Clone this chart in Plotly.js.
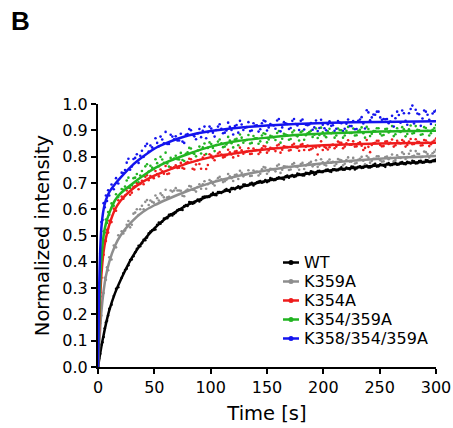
<!DOCTYPE html>
<html><head><meta charset="utf-8">
<script src="https://cdn.plot.ly/plotly-3.0.1.min.js"></script>
<style>html,body{margin:0;padding:0;background:#fff}#chart{width:453px;height:428px}</style>
</head><body><div id="chart"></div>
<script>
// ---- data ----
const seriesNames = ["WT", "K359A", "K354A", "K354/359A", "K358/354/359A"];

// fitted curves
const fitTime = [0,1,2,3,5,7,10,15,20,30,40,50,60,80,100,125,150,175,200,250,300];
const fitWT   = [0,0.027,0.053,0.078,0.122,0.163,0.215,0.28,0.33,0.415,0.478,0.527,0.565,0.617,0.652,0.683,0.708,0.728,0.744,0.767,0.783];
const fitK359 = [0,0.08,0.15,0.21,0.29,0.345,0.40,0.46,0.50,0.553,0.59,0.615,0.635,0.67,0.70,0.727,0.748,0.763,0.775,0.792,0.802];
const fitK354 = [0,0.15,0.27,0.35,0.44,0.49,0.54,0.598,0.632,0.675,0.705,0.728,0.745,0.775,0.798,0.815,0.828,0.837,0.843,0.85,0.853];
const fitK354_359 = [0,0.2,0.33,0.41,0.5,0.545,0.585,0.633,0.66,0.695,0.727,0.755,0.777,0.81,0.838,0.86,0.872,0.882,0.888,0.895,0.898];
const fitK358_354_359 = [0,0.3,0.45,0.53,0.6,0.635,0.665,0.695,0.72,0.765,0.80,0.83,0.85,0.88,0.897,0.91,0.918,0.924,0.928,0.932,0.934];

// measured points, first set (15 early points, then every 3 s from 21 to 300)
const pointTime = [
 0,1,2,3,4,5,6,7,8,9,10,12,14,16,18,
 21,24,27,30,33,36,39,42,45,48,
 51,54,57,60,63,66,69,72,75,78,
 81,84,87,90,93,96,99,102,105,108,
 111,114,117,120,123,126,129,132,135,138,
 141,144,147,150,153,156,159,162,165,168,
 171,174,177,180,183,186,189,192,195,198,
 201,204,207,210,213,216,219,222,225,228,
 231,234,237,240,243,246,249,252,255,258,
 261,264,267,270,273,276,279,282,285,288,
 291,294,297,300];
const ptsWT = [
 0.000,0.032,0.050,0.085,0.094,0.114,0.147,0.169,0.176,0.196,0.221,0.237,0.270,0.297,0.303,
 0.339,0.369,0.387,0.409,0.436,0.461,0.471,0.482,0.508,0.520,
 0.523,0.549,0.552,0.566,0.579,0.576,0.587,0.600,0.597,0.616,
 0.627,0.621,0.630,0.629,0.646,0.648,0.647,0.662,0.653,0.665,
 0.666,0.677,0.666,0.680,0.682,0.679,0.694,0.689,0.698,0.690,
 0.702,0.707,0.703,0.703,0.718,0.710,0.718,0.718,0.713,0.728,
 0.727,0.723,0.736,0.730,0.728,0.737,0.744,0.731,0.745,0.741,
 0.746,0.751,0.742,0.752,0.748,0.759,0.750,0.755,0.762,0.751,
 0.761,0.757,0.767,0.759,0.762,0.773,0.763,0.768,0.761,0.775,
 0.768,0.776,0.770,0.779,0.771,0.777,0.784,0.774,0.783,0.777,
 0.787,0.779,0.785,0.789];
const ptsK359 = [
 0.000,0.068,0.166,0.196,0.268,0.281,0.339,0.332,0.379,0.368,0.417,0.409,0.462,0.455,0.501,
 0.516,0.519,0.555,0.541,0.587,0.578,0.613,0.628,0.616,0.628,
 0.652,0.633,0.653,0.674,0.647,0.667,0.680,0.671,0.651,0.670,
 0.688,0.674,0.667,0.695,0.695,0.678,0.711,0.697,0.708,0.723,
 0.703,0.712,0.725,0.707,0.732,0.746,0.725,0.733,0.726,0.747,
 0.743,0.735,0.760,0.735,0.754,0.751,0.765,0.738,0.763,0.761,
 0.751,0.775,0.760,0.772,0.753,0.771,0.780,0.769,0.761,0.790,
 0.769,0.781,0.777,0.765,0.791,0.786,0.773,0.797,0.781,0.774,
 0.788,0.799,0.771,0.796,0.784,0.792,0.801,0.781,0.798,0.790,
 0.808,0.787,0.796,0.816,0.791,0.811,0.801,0.821,0.810,0.799,
 0.817,0.797,0.813,0.826];
const ptsK354 = [
 0.000,0.138,0.283,0.339,0.418,0.427,0.481,0.479,0.522,0.511,0.556,0.551,0.602,0.594,0.634,
 0.648,0.652,0.682,0.663,0.687,0.676,0.708,0.723,0.710,0.722,
 0.745,0.725,0.744,0.764,0.736,0.756,0.767,0.758,0.757,0.775,
 0.792,0.754,0.770,0.772,0.796,0.753,0.809,0.794,0.803,0.817,
 0.797,0.805,0.816,0.797,0.821,0.834,0.811,0.819,0.810,0.831,
 0.825,0.817,0.840,0.815,0.833,0.829,0.842,0.815,0.839,0.836,
 0.825,0.849,0.833,0.845,0.825,0.842,0.828,0.839,0.808,0.858,
 0.837,0.827,0.844,0.832,0.857,0.852,0.838,0.862,0.845,0.838,
 0.851,0.841,0.833,0.837,0.844,0.852,0.860,0.839,0.857,0.848,
 0.865,0.843,0.852,0.863,0.838,0.857,0.847,0.866,0.855,0.843,
 0.861,0.840,0.856,0.869];
const ptsK354_359 = [
 0.000,0.214,0.318,0.427,0.448,0.516,0.511,0.561,0.548,0.589,0.579,0.622,0.613,0.657,0.646,
 0.677,0.686,0.720,0.691,0.720,0.702,0.745,0.763,0.743,0.758,
 0.790,0.763,0.789,0.815,0.762,0.788,0.803,0.789,0.787,0.811,
 0.833,0.814,0.801,0.838,0.835,0.810,0.854,0.833,0.844,0.865,
 0.836,0.846,0.861,0.835,0.868,0.884,0.853,0.863,0.850,0.878,
 0.870,0.858,0.889,0.854,0.879,0.873,0.890,0.853,0.887,0.881,
 0.867,0.899,0.877,0.893,0.864,0.889,0.898,0.883,0.871,0.910,
 0.880,0.896,0.889,0.872,0.907,0.900,0.880,0.913,0.890,0.880,
 0.897,0.911,0.872,0.905,0.887,0.897,0.908,0.880,0.905,0.892,
 0.916,0.885,0.897,0.912,0.877,0.904,0.888,0.916,0.900,0.885,
 0.909,0.880,0.902,0.920];
const ptsK358_354_359 = [
 0.000,0.318,0.432,0.551,0.559,0.623,0.607,0.652,0.631,0.672,0.652,0.694,0.676,0.718,0.698,
 0.739,0.749,0.792,0.762,0.795,0.776,0.822,0.840,0.819,0.835,
 0.870,0.839,0.865,0.894,0.848,0.876,0.877,0.861,0.857,0.883,
 0.905,0.882,0.866,0.905,0.898,0.870,0.914,0.891,0.901,0.923,
 0.889,0.899,0.913,0.884,0.920,0.936,0.901,0.912,0.897,0.927,
 0.919,0.904,0.937,0.899,0.924,0.918,0.937,0.896,0.931,0.924,
 0.909,0.943,0.918,0.936,0.903,0.919,0.928,0.911,0.897,0.940,
 0.908,0.923,0.917,0.898,0.935,0.927,0.906,0.941,0.916,0.904,
 0.936,0.950,0.907,0.968,0.949,0.959,0.971,0.940,0.942,0.927,
 0.955,0.946,0.958,0.975,0.936,0.965,0.994,0.978,0.961,0.945,
 0.971,0.940,0.964,0.975];

// measured points, second (interleaved) set
const pointTime2 = [
 22.5,25.5,28.5,31.5,34.5,37.5,40.5,43.5,46.5,49.5,
 52.5,55.5,58.5,61.5,64.5,67.5,70.5,73.5,76.5,79.5,
 82.5,85.5,88.5,91.5,94.5,97.5,100.5,103.5,106.5,109.5,
 112.5,115.5,118.5,121.5,124.5,127.5,130.5,133.5,136.5,139.5,
 142.5,145.5,148.5,151.5,154.5,157.5,160.5,163.5,166.5,169.5,
 172.5,175.5,178.5,181.5,184.5,187.5,190.5,193.5,196.5,199.5,
 202.5,205.5,208.5,211.5,214.5,217.5,220.5,223.5,226.5,229.5,
 232.5,235.5,238.5,241.5,244.5,247.5,250.5,253.5,256.5,259.5,
 262.5,265.5,268.5,271.5,274.5,277.5,280.5,283.5,286.5,289.5,
 292.5,295.5,298.5];
const pts2WT = [
 0.356,0.374,0.407,0.421,0.449,0.459,0.484,0.492,0.515,0.521,
 0.541,0.545,0.564,0.566,0.581,0.582,0.597,0.598,0.612,0.612,
 0.626,0.624,0.637,0.635,0.648,0.646,0.657,0.654,0.665,0.662,
 0.673,0.670,0.680,0.676,0.687,0.683,0.694,0.690,0.700,0.696,
 0.705,0.701,0.711,0.706,0.716,0.711,0.721,0.716,0.725,0.720,
 0.730,0.725,0.734,0.728,0.738,0.733,0.742,0.735,0.746,0.741,
 0.750,0.744,0.752,0.747,0.755,0.750,0.758,0.752,0.761,0.755,
 0.763,0.758,0.766,0.759,0.769,0.762,0.771,0.765,0.773,0.767,
 0.775,0.769,0.777,0.772,0.780,0.774,0.782,0.775,0.784,0.778,
 0.786,0.779,0.787];
const pts2K359 = [
 0.508,0.541,0.531,0.583,0.600,0.600,0.600,0.635,0.633,0.625,
 0.642,0.660,0.645,0.645,0.671,0.671,0.671,0.670,0.649,0.675,
 0.686,0.673,0.684,0.678,0.706,0.695,0.706,0.690,0.718,0.714,
 0.706,0.734,0.718,0.730,0.715,0.738,0.731,0.748,0.727,0.742,
 0.728,0.752,0.758,0.744,0.753,0.744,0.770,0.750,0.762,0.749,
 0.771,0.763,0.750,0.776,0.766,0.775,0.763,0.786,0.770,0.778,
 0.766,0.789,0.780,0.772,0.788,0.767,0.787,0.781,0.795,0.776,
 0.792,0.784,0.802,0.777,0.792,0.801,0.786,0.782,0.800,0.795,
 0.782,0.805,0.795,0.810,0.798,0.822,0.803,0.811,0.798,0.819,
 0.810,0.804,0.818];
const pts2K354 = [
 0.640,0.671,0.655,0.684,0.699,0.696,0.695,0.729,0.726,0.718,
 0.734,0.751,0.735,0.734,0.759,0.759,0.757,0.776,0.754,0.779,
 0.790,0.751,0.786,0.754,0.806,0.768,0.804,0.786,0.812,0.808,
 0.799,0.826,0.808,0.819,0.803,0.824,0.817,0.832,0.811,0.824,
 0.810,0.832,0.838,0.823,0.831,0.821,0.846,0.826,0.837,0.823,
 0.844,0.836,0.822,0.848,0.837,0.825,0.832,0.835,0.838,0.825,
 0.833,0.836,0.846,0.838,0.853,0.832,0.851,0.845,0.858,0.839,
 0.854,0.825,0.863,0.817,0.851,0.860,0.844,0.840,0.858,0.852,
 0.838,0.860,0.850,0.857,0.844,0.867,0.848,0.856,0.842,0.863,
 0.853,0.847,0.861];
const pts2K354_359 = [
 0.674,0.709,0.681,0.718,0.734,0.728,0.726,0.771,0.765,0.753,
 0.775,0.799,0.776,0.774,0.795,0.793,0.790,0.814,0.783,0.816,
 0.831,0.810,0.823,0.812,0.850,0.833,0.848,0.821,0.857,0.851,
 0.838,0.875,0.851,0.865,0.843,0.872,0.861,0.882,0.852,0.870,
 0.849,0.880,0.886,0.865,0.876,0.863,0.897,0.868,0.884,0.864,
 0.892,0.881,0.861,0.897,0.881,0.893,0.875,0.907,0.882,0.892,
 0.874,0.906,0.891,0.880,0.901,0.872,0.898,0.890,0.907,0.881,
 0.902,0.889,0.913,0.878,0.897,0.908,0.887,0.882,0.906,0.897,
 0.878,0.908,0.894,0.904,0.886,0.918,0.890,0.902,0.883,0.912,
 0.898,0.889,0.909];
const pts2K358_354_359 = [
 0.737,0.777,0.750,0.791,0.809,0.803,0.799,0.849,0.842,0.830,
 0.852,0.876,0.851,0.848,0.883,0.866,0.861,0.887,0.852,0.886,
 0.900,0.877,0.888,0.874,0.914,0.893,0.907,0.876,0.914,0.906,
 0.891,0.929,0.901,0.916,0.891,0.922,0.910,0.931,0.899,0.918,
 0.895,0.927,0.934,0.911,0.920,0.906,0.943,0.911,0.927,0.905,
 0.936,0.924,0.901,0.941,0.921,0.922,0.902,0.937,0.909,0.921,
 0.900,0.934,0.919,0.906,0.929,0.897,0.925,0.916,0.935,0.905,
 0.941,0.926,0.976,0.938,0.960,0.971,0.949,0.943,0.943,0.933,
 0.914,0.971,0.929,0.965,0.921,0.981,0.926,0.964,0.917,0.975,
 0.959,0.924,0.971];

const xTicks = [0,50,100,150,200,250,300];
const yTicks = [0,0.1,0.2,0.3,0.4,0.5,0.6,0.7,0.8,0.9,1.0];

// ---- style ----
const colors = ["#000000", "#8e8e8e", "#ee1c1c", "#22b422", "#1414ee"];
const fits = [fitWT, fitK359, fitK354, fitK354_359, fitK358_354_359];
const pts = [ptsWT, ptsK359, ptsK354, ptsK354_359, ptsK358_354_359];
const pts2 = [pts2WT, pts2K359, pts2K354, pts2K354_359, pts2K358_354_359];
const FONT = "DejaVu Sans, Liberation Sans, Arial, sans-serif";

const traces = [];
for (let i = 0; i < seriesNames.length; i++) {
  traces.push({x: pointTime.concat(pointTime2), y: pts[i].concat(pts2[i]), type: "scatter", mode: "markers",
    name: seriesNames[i] + " data", marker: {color: colors[i], size: 2.6}, showlegend: false, hoverinfo: "skip"});
}
for (let i = 0; i < seriesNames.length; i++) {
  traces.push({x: fitTime, y: fits[i], type: "scatter", mode: "lines", name: seriesNames[i],
    line: {color: colors[i], width: 2.5, shape: "spline", smoothing: 0.6},
    showlegend: false, hoverinfo: "skip"});
}

// hand-placed legend (paper coordinates, tuned to the reference's compact rows)
const legRowY = [0.3973, 0.3251, 0.2529, 0.1806, 0.1084];
const legLineX = [0.5473, 0.5947], legDotX = 0.571, legTextX = 0.6065;
const shapes = [], annotations = [];
for (let i = 0; i < seriesNames.length; i++) {
  shapes.push({type: "line", xref: "paper", yref: "paper", x0: legLineX[0], x1: legLineX[1],
    y0: legRowY[i], y1: legRowY[i], line: {color: colors[i], width: 2.5}});
  shapes.push({type: "circle", xref: "paper", yref: "paper", xsizemode: "pixel", ysizemode: "pixel",
    xanchor: legDotX, yanchor: legRowY[i], x0: -2.5, x1: 2.5, y0: -2.5, y1: 2.5,
    fillcolor: colors[i], line: {width: 0}});
  annotations.push({text: seriesNames[i], xref: "paper", yref: "paper", x: legTextX, y: legRowY[i],
    xanchor: "left", yanchor: "middle", showarrow: false, borderpad: 0,
    font: {family: FONT, size: 16, color: "#000"}});
}
annotations.push({text: "<b>B</b>", xref: "paper", yref: "paper", x: -0.262, y: 1.314,
  xanchor: "left", yanchor: "middle", showarrow: false,
  font: {family: "Liberation Sans, Arial, sans-serif", size: 26, color: "#000"}});

const layout = {
  width: 453, height: 428,
  margin: {l: 98, r: 17, t: 104, b: 61},
  paper_bgcolor: "#fff", plot_bgcolor: "#fff",
  font: {family: FONT, color: "#000"},
  showlegend: false,
  xaxis: {range: [0, 300], tickvals: xTicks, ticktext: xTicks.map(String),
    showline: true, linewidth: 2, linecolor: "#000", ticks: "outside", ticklen: 5, tickwidth: 2, tickcolor: "#000",
    showgrid: false, zeroline: false, tickfont: {family: FONT, size: 16, color: "#000"},
    title: {text: "Time [s]", font: {family: FONT, size: 19.5, color: "#000"}, standoff: 10}},
  yaxis: {range: [0, 1.0], tickvals: yTicks, ticktext: yTicks.map(v => v.toFixed(1)),
    showline: true, linewidth: 2, linecolor: "#000", ticks: "outside", ticklen: 5, tickwidth: 2, tickcolor: "#000",
    showgrid: false, zeroline: false, tickfont: {family: FONT, size: 16, color: "#000"},
    title: {text: "Normalized intensity", font: {family: FONT, size: 19.5, color: "#000"}, standoff: 8}},
  shapes: shapes,
  annotations: annotations
};

Plotly.newPlot("chart", traces, layout, {staticPlot: true, displayModeBar: false});
</script>
</body></html>
